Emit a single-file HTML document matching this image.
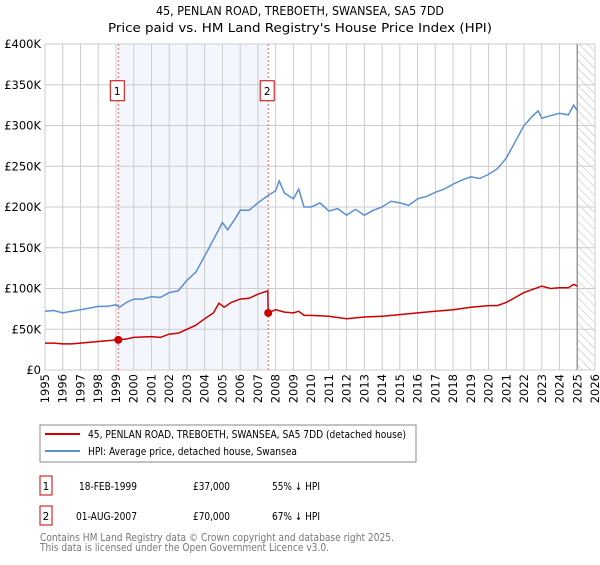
<!DOCTYPE html>
<html><head><meta charset="utf-8"><style>
body{margin:0;background:#fff;font-family:"Liberation Sans","DejaVu Sans",sans-serif;}
svg text{font-family:"DejaVu Sans","Liberation Sans",sans-serif;}
</style></head><body>
<svg id="chart" width="600" height="560" xmlns="http://www.w3.org/2000/svg">
<text x="156" y="15" font-size="12" textLength="288" lengthAdjust="spacingAndGlyphs" fill="#000">45, PENLAN ROAD, TREBOETH, SWANSEA, SA5 7DD</text>
<text x="108" y="32" font-size="12" textLength="384" lengthAdjust="spacingAndGlyphs" fill="#000">Price paid vs. HM Land Registry's House Price Index (HPI)</text>
<defs><pattern id="hatch" width="6" height="6" patternUnits="userSpaceOnUse" patternTransform="rotate(-45)"><line x1="0" y1="0" x2="0" y2="6" stroke="#bbb" stroke-width="1"/></pattern></defs>
<g id="grid"></g><g id="marks"></g>
<rect x="40" y="425" width="376" height="37" fill="#fff" stroke="#888"/>
<line x1="45" y1="434" x2="80" y2="434" stroke="#cc0000" stroke-width="2"/>
<text x="88" y="438" font-size="10.5" textLength="318" lengthAdjust="spacingAndGlyphs">45, PENLAN ROAD, TREBOETH, SWANSEA, SA5 7DD (detached house)</text>
<line x1="45" y1="451" x2="80" y2="451" stroke="#5b8fd4" stroke-width="2"/>
<text x="88" y="455" font-size="10.5" textLength="209" lengthAdjust="spacingAndGlyphs">HPI: Average price, detached house, Swansea</text>
<rect x="40" y="476" width="12" height="19" fill="#fff" stroke="#cc0000"/>
<text x="46" y="490" text-anchor="middle" font-size="10.5">1</text>
<text x="79" y="490" font-size="10.5" textLength="58" lengthAdjust="spacingAndGlyphs">18-FEB-1999</text>
<text x="193" y="490" font-size="10.5" textLength="37" lengthAdjust="spacingAndGlyphs">£37,000</text>
<text x="272" y="490" font-size="10.5" textLength="48" lengthAdjust="spacingAndGlyphs">55% ↓ HPI</text>
<rect x="40" y="506" width="12" height="19" fill="#fff" stroke="#cc0000"/>
<text x="46" y="520" text-anchor="middle" font-size="10.5">2</text>
<text x="76" y="520" font-size="10.5" textLength="61" lengthAdjust="spacingAndGlyphs">01-AUG-2007</text>
<text x="193" y="520" font-size="10.5" textLength="37" lengthAdjust="spacingAndGlyphs">£70,000</text>
<text x="272" y="520" font-size="10.5" textLength="48" lengthAdjust="spacingAndGlyphs">67% ↓ HPI</text>
<text x="40" y="541" font-size="10.5" fill="#777" textLength="354" lengthAdjust="spacingAndGlyphs">Contains HM Land Registry data © Crown copyright and database right 2025.</text>
<text x="40" y="551" font-size="10.5" fill="#777" textLength="289" lengthAdjust="spacingAndGlyphs">This data is licensed under the Open Government Licence v3.0.</text>
</svg>
<script>
const yTicks=[0,50,100,150,200,250,300,350,400];
const yLabels=["£0","£50K","£100K","£150K","£200K","£250K","£300K","£350K","£400K"];
const years=[1995,1996,1997,1998,1999,2000,2001,2002,2003,2004,2005,2006,2007,2008,2009,2010,2011,2012,2013,2014,2015,2016,2017,2018,2019,2020,2021,2022,2023,2024,2025,2026];
const hpiT=[1995,1995.5,1996,1996.5,1997,1997.5,1998,1998.5,1999,1999.2,1999.6,2000,2000.5,2001,2001.5,2002,2002.5,2003,2003.5,2004,2004.5,2005,2005.3,2005.7,2006,2006.5,2007,2007.5,2008,2008.2,2008.5,2009,2009.3,2009.6,2010,2010.5,2011,2011.5,2012,2012.5,2013,2013.5,2014,2014.5,2015,2015.5,2016,2016.5,2017,2017.5,2018,2018.5,2019,2019.5,2020,2020.5,2021,2021.5,2022,2022.5,2022.8,2023,2023.5,2024,2024.5,2024.8,2025];
const hpiV=[72,73,70,72,74,76,78,78,80,77,83,87,87,90,89,95,97,110,120,140,160,181,172,185,196,196,205,213,220,232,217,210,222,200,200,205,195,198,190,197,190,196,200,207,205,202,210,213,218,222,228,233,237,235,240,247,260,280,300,312,318,309,312,315,313,325,318];
const redT=[1995,1995.5,1996,1996.5,1997,1998,1999.13,1999.6,2000,2001,2001.5,2002,2002.5,2003,2003.5,2004,2004.5,2004.8,2005.1,2005.5,2006,2006.5,2007,2007.56,2007.58,2008,2008.5,2009,2009.3,2009.6,2010,2011,2012,2013,2014,2015,2016,2017,2018,2019,2020,2020.5,2021,2021.5,2022,2022.5,2023,2023.5,2024,2024.5,2024.8,2025];
const redV=[33,33,32,32,33,35,37,38,40,41,40,44,45,50,55,63,70,82,77,83,87,88,93,97,70,74,71,70,72,67,67,66,63,65,66,68,70,72,74,77,79,79,83,89,95,99,103,100,101,101,105,103];
const sales=[{t:2007.58-8.45,v:37,n:"1"},{t:2007.58,v:70,n:"2"}];
const L=45,R=595,T=44,B=370;
const x=t=>L+(t-1995)*(R-L)/31, y=v=>B-v*(B-T)/400;
const NS="http://www.w3.org/2000/svg";
function mk(p,tag,a){const e=document.createElementNS(NS,tag);for(const k in a)e.setAttribute(k,a[k]);p.appendChild(e);return e;}
const g=document.getElementById('grid'),m=document.getElementById('marks');
const sh=mk(g,'rect',{x:x(sales[0].t),y:T,width:x(sales[1].t)-x(sales[0].t),height:B-T,fill:'#eef3fc',opacity:0.7});


const hz=mk(g,'rect',{x:x(2025),y:T,width:R-x(2025),height:B-T,fill:'url(#hatch)'});


yTicks.forEach((v,i)=>{mk(g,'line',{x1:L,x2:R,y1:y(v),y2:y(v),stroke:'#ccc'});
const t=mk(g,'text',{x:L-4,y:y(v)+4,'text-anchor':'end','font-size':11.5});t.textContent=yLabels[i];

});
years.forEach(yr=>{mk(g,'line',{x1:x(yr),x2:x(yr),y1:T,y2:B,stroke:'#ccc'});
const t=mk(g,'text',{x:0,y:0,'text-anchor':'end','font-size':11.5,transform:`translate(${x(yr)+4},${B+4}) rotate(-90)`});t.textContent=yr;

});
mk(g,'line',{x1:x(2025),x2:x(2025),y1:T,y2:B,stroke:'#999','stroke-width':1.5});
sales.forEach(s=>{mk(g,'line',{x1:x(s.t),x2:x(s.t),y1:T,y2:B,stroke:'#e66','stroke-dasharray':'2,2'});
const r=mk(m,'rect',{x:x(s.t)-8,y:y(350)-4,width:14,height:20,fill:'#fff',stroke:'#cc0000'});


const t=mk(m,'text',{x:x(s.t)-1,y:y(350)+10,'text-anchor':'middle','font-size':10.5});t.textContent=s.n;});
const pts=(T_,V)=>T_.map((t,i)=>x(t).toFixed(1)+','+y(V[i]).toFixed(1)).join(' ');
const hl=mk(m,'polyline',{points:pts(hpiT,hpiV),fill:'none',stroke:'#5b8fd4','stroke-width':1.5});


const rl=mk(m,'polyline',{points:pts(redT,redV),fill:'none',stroke:'#cc0000','stroke-width':1.5});


sales.forEach(s=>{const c=mk(m,'circle',{cx:x(s.t),cy:y(s.v),r:4,fill:'#cc0000'});

});
</script>
</body></html>
